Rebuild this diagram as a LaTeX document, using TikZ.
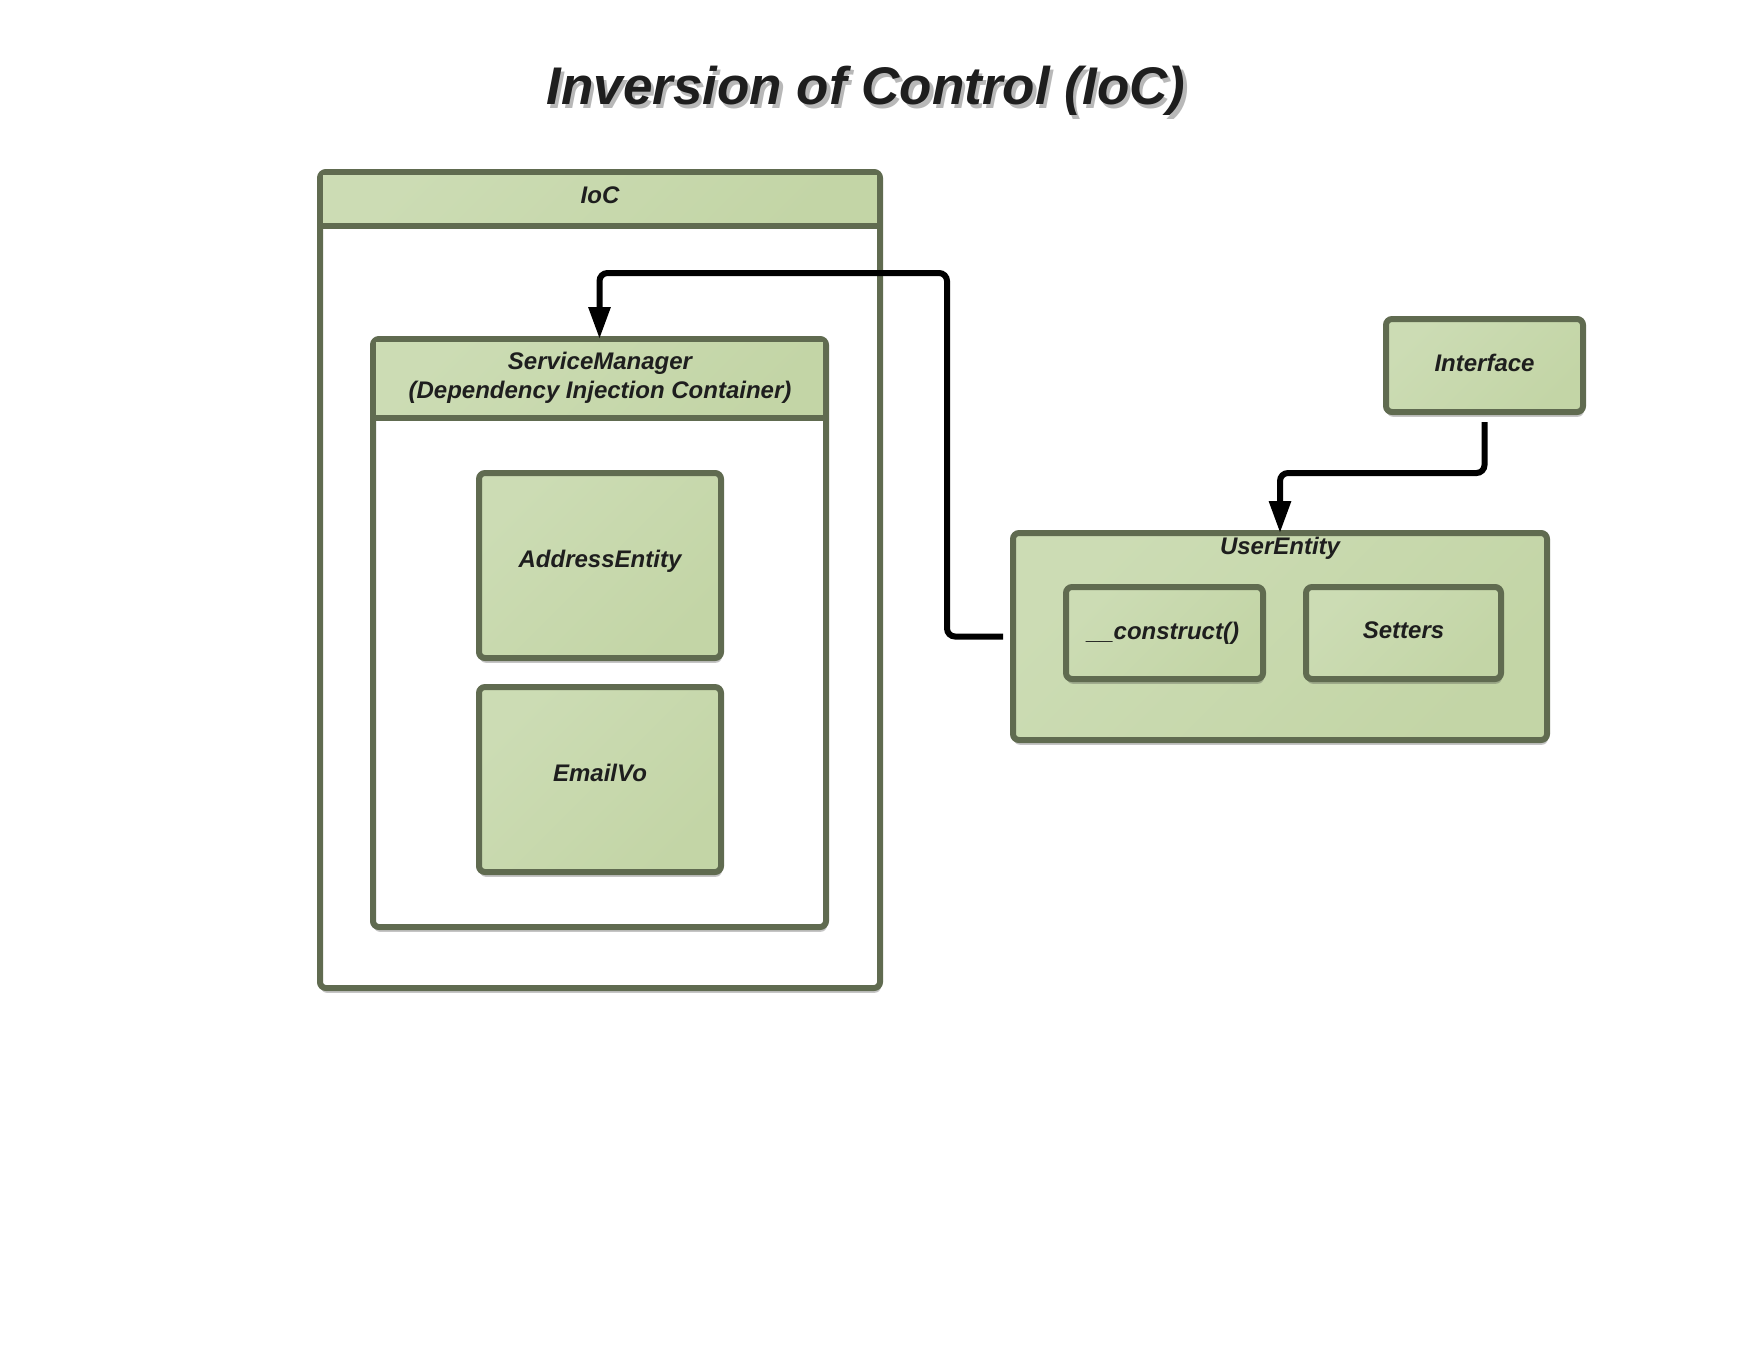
\documentclass[tikz,border=0pt]{standalone}
\usepackage{fontspec}
\setmainfont{Liberation Sans}
\usetikzlibrary{arrows.meta,shadows}
\definecolor{bord}{RGB}{96,107,80}
\definecolor{gA}{RGB}{204,220,180}
\definecolor{gB}{RGB}{195,213,166}
\definecolor{txt}{RGB}{30,30,30}
\begin{document}
\begin{tikzpicture}[x=0.5pt,y=-0.5pt,
  shad/.style={drop shadow={opacity=0.3,shadow xshift=0.4pt,shadow yshift=-2.4pt,fill=black!75}},
  box/.style={draw=bord,line width=3pt,rounded corners=3pt,outer sep=0pt,inner sep=0pt,
    top color=gA,bottom color=gB,shading angle=45,shad},
  cont/.style={draw=bord,line width=3pt,rounded corners=3pt,outer sep=0pt,inner sep=0pt,
    fill=white,shad},
  hdr/.style={top color=gA,bottom color=gB,shading angle=45},
  sepline/.style={draw=bord,line width=3pt},
  lbl/.style={font=\fontsize{12}{14.5}\selectfont\bfseries\itshape,text=txt,inner sep=0pt,anchor=base},
  conn/.style={draw=black,line width=3pt,rounded corners=4pt,-{Triangle[length=16pt,width=10.5pt]}}
]
\useasboundingbox (0,0) rectangle (1760,1360);

% title (with its soft shadow)
\node[font=\fontsize{26.5}{30}\selectfont\bfseries\itshape,text=txt,inner sep=0pt,anchor=base] (title) at (866,104)
  {\makebox[0pt][l]{\kern1.6pt\raisebox{-2pt}{\textcolor{black!28}{Inversion of Control (IoC)}}}Inversion of Control (IoC)};

% IoC container
\node[cont,minimum width=280pt,minimum height=408pt] (ioc) at (600,580) {};
\begin{scope}
  \clip (323,175) rectangle (877,226);
  \fill[hdr] (320,172) rectangle (880,230);
\end{scope}
\draw[sepline] (320,226) -- (880,226);
\node[lbl] (ioclabel) at (600,203) {IoC};

% ServiceManager container
\node[cont,minimum width=226.5pt,minimum height=294pt] (sm) at (599.5,633) {};
\begin{scope}
  \clip (376,342) rectangle (823,418);
  \fill[hdr] (373,339) rectangle (826,422);
\end{scope}
\draw[sepline] (373,418) -- (826,418);
\node[lbl,align=center] (smlabel) at (600,398) {ServiceManager\\(Dependency Injection Container)};

% inner boxes
\node[box,minimum width=121pt,minimum height=92.5pt] (ae) at (600,565.5) {};
\node[lbl] (aelabel) at (600,567.5) {AddressEntity};
\node[box,minimum width=121pt,minimum height=92.5pt] (ev) at (600,779.5) {};
\node[lbl] (evlabel) at (600,781.5) {EmailVo};

% Interface
\node[box,minimum width=98.5pt,minimum height=46.5pt] (if) at (1484.5,365.5) {};
\node[lbl] (iflabel) at (1484.5,371) {Interface};

% UserEntity
\node[box,minimum width=267pt,minimum height=103.5pt] (ue) at (1280,636.5) {};
\node[lbl] (uelabel) at (1280,554) {UserEntity};
\node[box,minimum width=98.5pt,minimum height=46pt] (co) at (1164.5,633) {};
\node[lbl] (colabel) at (1163,639) {\_\_construct()};
\node[box,minimum width=97.5pt,minimum height=46pt] (se) at (1403.5,633) {};
\node[lbl] (selabel) at (1403.5,638) {Setters};

% connectors
\coordinate (b1) at (947,273);
\draw[conn] ([xshift=-5pt]ue.west) -| (b1) -| (sm.north);
\coordinate (b2) at (1280,473);
\draw[conn] ([yshift=-5pt]if.south) |- (b2) -- (ue.north);
\end{tikzpicture}
\end{document}
